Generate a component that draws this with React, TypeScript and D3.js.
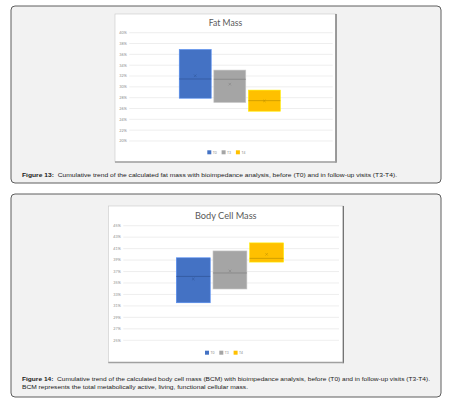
import * as d3 from "d3";

// series shown in both box plots
const series = ["T0", "T3", "T4"];
const boxColors = ["#4472c4", "#a5a5a5", "#ffc000"];
const lineColors = ["#2f5597", "#7f7f7f", "#bf9000"];

// Fat Mass (%)
const fatTicks = [20, 22, 24, 26, 28, 30, 32, 34, 36, 38, 40];
const fatQ1 = [27.9, 27.1, 25.5];
const fatQ3 = [36.9, 33.1, 29.4];
const fatMedian = [31.45, 31.4, 27.45];
const fatMean = [32.05, 30.5, 27.4];

// Body Cell Mass (%)
const bcmTicks = [25, 27, 29, 31, 33, 35, 37, 39, 41, 43, 45];
const bcmQ1 = [31.55, 33.95, 38.65];
const bcmQ3 = [39.4, 40.6, 42.0];
const bcmMedian = [36.15, 36.75, 39.3];
const bcmMean = [35.7, 37.1, 40.0];

type Layout = {
  outer: [number, number, number, number];
  chart: [number, number, number, number];
  left: number;
  right: number;
  top: number;
  bottom: number;
  titleY: number;
  titleSize: number;
  legendX: number;
  legendY: number;
  captionY: number;
};

type PanelProps = {
  title: string;
  ticks: number[];
  q1: number[];
  q3: number[];
  median: number[];
  mean: number[];
  layout: Layout;
  caption: string[];
  captionLengths: number[];
};

function Panel({ title, ticks, q1, q3, median, mean, layout, caption, captionLengths }: PanelProps) {
  const L = layout;
  const y = d3
    .scaleLinear()
    .domain([ticks[0], ticks[ticks.length - 1]])
    .range([L.bottom, L.top]);
  const cx = (L.left + L.right) / 2 - 1.2;
  const half = ((L.right - L.left) * 0.51) / 2;
  const x = d3
    .scaleBand<string>()
    .domain(series)
    .range([cx - half, cx + half])
    .paddingInner(0.075)
    .paddingOuter(0.0375);
  const bw = x.bandwidth();
  const [ox, oy, ow, oh] = L.outer;
  const [chx, chy, chw, chh] = L.chart;

  return (
    <g>
      <rect x={ox} y={oy} width={ow} height={oh} rx={4} fill="#f2f2f2" stroke="#4d4d4d" strokeWidth={0.9} />
      <rect x={chx} y={chy} width={chw} height={chh} fill="#fff" stroke="#c8c8c8" strokeWidth={0.6} />
      <line x1={chx + chw} x2={chx + chw} y1={chy} y2={chy + chh + 0.8} stroke="#6f6f6f" strokeWidth={1.3} />
      <line x1={chx} x2={chx + chw} y1={chy + chh} y2={chy + chh} stroke="#a0a0a0" strokeWidth={1.3} />

      <text x={(chx + chx + chw) / 2} y={L.titleY} textAnchor="middle" fontFamily="Lato" fontSize={L.titleSize} fill="#595959">
        {title}
      </text>

      {ticks.map((t) => (
        <g key={t}>
          <line x1={L.left} x2={L.right} y1={y(t)} y2={y(t)} stroke="#e3e3e3" strokeWidth={0.6} />
          <text x={L.left - 2.5} y={y(t)} dy="0.35em" textAnchor="end" fontFamily="Lato" fontSize={3.8} fill="#8c8c8c">
            {t}%
          </text>
        </g>
      ))}

      {series.map((s, i) => {
        const x0 = x(s) as number;
        const mx = x0 + bw / 2;
        const my = y(mean[i]);
        return (
          <g key={s}>
            <rect
              x={x0}
              y={y(q3[i])}
              width={bw}
              height={y(q1[i]) - y(q3[i])}
              fill={boxColors[i]}
              stroke={d3.color(boxColors[i])!.brighter(0.6).formatHex()}
              strokeWidth={0.6}
            />
            <line x1={x0} x2={x0 + bw} y1={y(median[i])} y2={y(median[i])} stroke={lineColors[i]} strokeWidth={0.7} />
            <path
              d={`M${mx - 1.3},${my - 1.3}L${mx + 1.3},${my + 1.3}M${mx + 1.3},${my - 1.3}L${mx - 1.3},${my + 1.3}`}
              stroke={lineColors[i]}
              strokeWidth={0.5}
            />
          </g>
        );
      })}

      {series.map((s, i) => (
        <g key={"lg" + s} transform={`translate(${L.legendX + i * 14.3},${L.legendY})`}>
          <rect x={0} y={-2} width={4} height={4} fill={boxColors[i]} />
          <text x={5.5} y={0} dy="0.35em" fontFamily="Lato" fontSize={3.4} fill="#8c8c8c">
            {s}
          </text>
        </g>
      ))}

      {caption.map((c, k) => {
        const bold = k === 0 ? c.slice(0, c.indexOf(":") + 1) : "";
        const rest = k === 0 ? c.slice(c.indexOf(":") + 1) : c;
        return (
          <text
            key={k}
            x={22}
            y={L.captionY + k * 8.4}
            fontFamily="Liberation Sans"
            fontSize={5.6}
            fill="#1a1a1a"
            textLength={captionLengths[k]}
            lengthAdjust="spacingAndGlyphs"
          >
            {bold && <tspan fontWeight="bold">{bold}</tspan>}
            <tspan xmlSpace="preserve">{rest}</tspan>
          </text>
        );
      })}
    </g>
  );
}

const topLayout: Layout = {
  outer: [11, 6, 430, 177],
  chart: [115, 14, 221, 148],
  left: 129.3,
  right: 332.7,
  top: 32.7,
  bottom: 141,
  titleY: 26,
  titleSize: 8.6,
  legendX: 207.3,
  legendY: 152.3,
  captionY: 177,
};

const bottomLayout: Layout = {
  outer: [11, 194, 430, 203],
  chart: [108.3, 206, 235, 156.5],
  left: 123.3,
  right: 339,
  top: 225.7,
  bottom: 340.3,
  titleY: 218.5,
  titleSize: 9.2,
  legendX: 205,
  legendY: 352.7,
  captionY: 381,
};

export default function App() {
  return (
    <svg width={451} height={406} style={{ position: "absolute", left: 0, top: 0 }}>
      <rect width={451} height={406} fill="#fff" />
      <Panel
        title="Fat Mass"
        ticks={fatTicks}
        q1={fatQ1}
        q3={fatQ3}
        median={fatMedian}
        mean={fatMean}
        layout={topLayout}
        caption={[
          "Figure 13:  Cumulative trend of the calculated fat mass with bioimpedance analysis, before (T0) and in follow-up visits (T3-T4).",
        ]}
        captionLengths={[375]}
      />
      <Panel
        title="Body Cell Mass"
        ticks={bcmTicks}
        q1={bcmQ1}
        q3={bcmQ3}
        median={bcmMedian}
        mean={bcmMean}
        layout={bottomLayout}
        caption={[
          "Figure 14:  Cumulative trend of the calculated body cell mass (BCM) with bioimpedance analysis, before (T0) and in follow-up visits (T3-T4).",
          "BCM represents the total metabolically active, living, functional cellular mass.",
        ]}
        captionLengths={[408, 226]}
      />
    </svg>
  );
}
